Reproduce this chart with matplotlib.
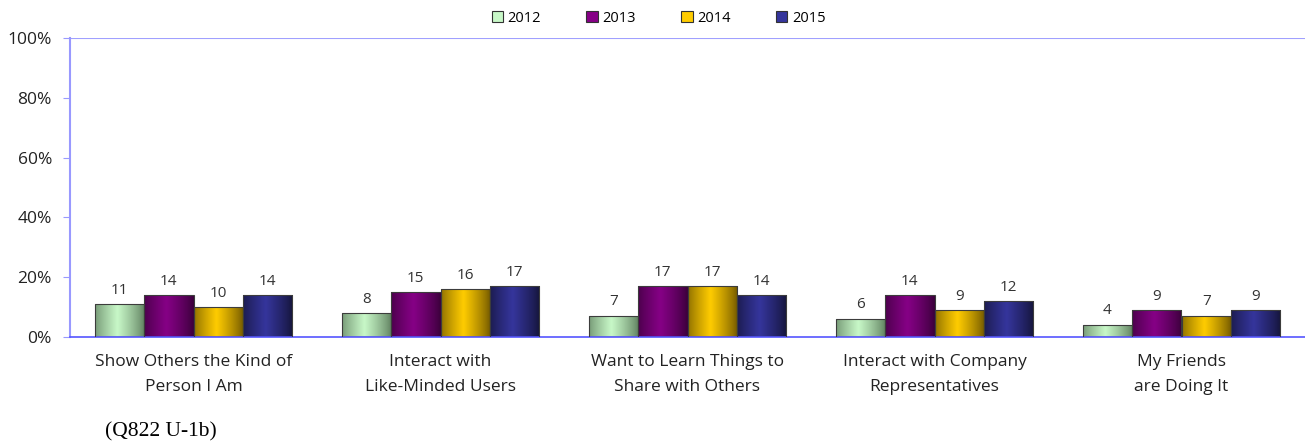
import matplotlib.pyplot as plt
import numpy as np
from matplotlib.patches import Patch

categories = ["Show Others the Kind of\nPerson I Am",
              "Interact with\nLike-Minded Users",
              "Want to Learn Things to\nShare with Others",
              "Interact with Company\nRepresentatives",
              "My Friends\nare Doing It"]
years = ["2012", "2013", "2014", "2015"]
v2012 = [11, 8, 7, 6, 4]
v2013 = [14, 15, 17, 14, 9]
v2014 = [10, 16, 17, 9, 7]
v2015 = [14, 17, 14, 12, 9]
series = [v2012, v2013, v2014, v2015]

# (edge shade, centre highlight) per year
colors = [("#5d7d5d", "#c8f8c8"),
          ("#3a003a", "#860086"),
          ("#6e5500", "#ffcc00"),
          ("#141438", "#35359c")]

plt.rcParams['font.family'] = ['Open Sans', 'DejaVu Sans']

fig = plt.figure(figsize=(13.05, 4.47), dpi=100)
ax = fig.add_axes([70 / 1305, 110 / 447, 1235 / 1305, 299 / 447])

n = len(series)
width = 0.2
x = np.arange(len(categories))


def gradient_bar(ax, x0, h, dark, light):
    # cylinder-like shading: dark at sides, light near the middle
    t = np.linspace(0, 1, 64)
    shade = np.clip(1 - np.abs(t - 0.45) / 0.55, 0, 1) ** 0.8
    c0 = np.array(plt.matplotlib.colors.to_rgb(dark))
    c1 = np.array(plt.matplotlib.colors.to_rgb(light))
    img = c0[None, :] + (c1 - c0)[None, :] * shade[:, None]
    ax.imshow(img[None, :, :], extent=[x0, x0 + width, 0, h],
              aspect='auto', zorder=2, interpolation='bicubic')
    ax.add_patch(plt.Rectangle((x0, 0), width, h, fill=False,
                               edgecolor="#3c3c3c", lw=0.8, zorder=3))


for i, vals in enumerate(series):
    for j, v in enumerate(vals):
        x0 = x[j] - 0.4 + i * width
        gradient_bar(ax, x0, v, *colors[i])
        ax.text(x0 + width / 2, v + 2.2, str(v), ha='center', va='bottom',
                fontsize=11, color="#333333")

ax.set_xlim(-0.5, len(categories) - 0.5)
ax.set_ylim(0, 100)
ax.set_yticks([0, 20, 40, 60, 80, 100])
ax.set_yticklabels(["0%", "20%", "40%", "60%", "80%", "100%"], fontsize=12.5, color="#222222")
ax.set_xticks(x)
ax.set_xticklabels(categories, fontsize=12.5, color="#222222", linespacing=1.75)
ax.tick_params(axis='x', length=0, pad=12)
ax.tick_params(axis='y', length=5, color="#9999ff", direction='out', pad=8)

ax.axhline(100, color="#a0a0ff", lw=1.5, zorder=1)
for s in ["top", "right"]:
    ax.spines[s].set_visible(False)
ax.spines["left"].set_color("#9999ff")
ax.spines["left"].set_linewidth(1.5)
ax.spines["bottom"].set_color("#5555ff")
ax.spines["bottom"].set_linewidth(1.2)

handles = [Patch(facecolor=colors[i][1], edgecolor="#333333", lw=0.8) for i in range(n)]
fig.legend(handles, years, loc='center', bbox_to_anchor=(0.5 + 6 / 1305, 1 - 18 / 447),
           ncol=4, frameon=False, fontsize=10.5, handlelength=0.8, handleheight=0.8,
           handletextpad=0.3, columnspacing=3.1)

fig.text(105 / 1305, 1 - 432 / 447, "(Q822 U-1b)", family="Liberation Serif",
         fontsize=15.5, va='center', ha='left')

fig.savefig("out.png", dpi=100)
